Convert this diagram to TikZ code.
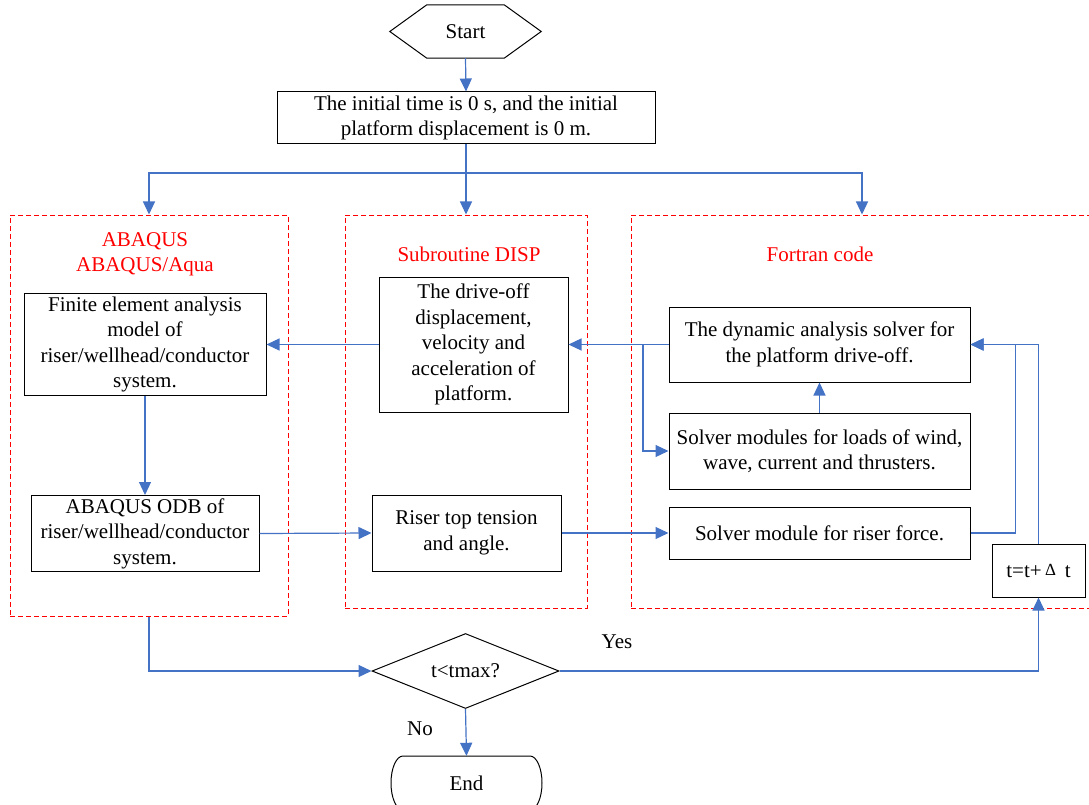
\documentclass[tikz,border=0pt]{standalone}
\usepackage{fontspec}
\setmainfont{Liberation Serif}
\usepackage{tikz}
\usetikzlibrary{arrows.meta,positioning,calc,shapes.geometric}
\definecolor{flowblue}{HTML}{4472C4}
\definecolor{groupred}{HTML}{FF0000}
\newcommand{\fsz}{\fontsize{21}{25.5}\selectfont}
\tikzset{
  procbox/.style={rectangle, draw=black, line width=1pt, align=center, inner sep=1pt},
  groupbox/.style={rectangle, draw=groupred, dash pattern=on 5pt off 3pt, line width=1pt},
  grouptitle/.style={text=groupred, align=center},
  decide/.style={diamond, draw=black, line width=1pt, aspect=2.5, inner sep=0pt,
                 minimum width=187pt, minimum height=75pt},
  arr/.style={-{Triangle[length=13pt,width=12pt]}, line width=1.2pt, draw=flowblue},
}

\begin{document}
\begin{tikzpicture}[x=1pt, y=-1pt, font=\fsz]
    \useasboundingbox (0,0) rectangle (1089,805);
    \clip (0,0) rectangle (1089,805);
    \node[minimum width=151pt, minimum height=53pt] (start) at (465.5,31.5) {Start};
    \draw[line width=1pt] (start.west) -- ($(start.north west)+(37,0)$) -- ($(start.north east)+(-37,0)$)
      -- (start.east) -- ($(start.south east)+(-37,0)$) -- ($(start.south west)+(37,0)$) -- cycle;
    \node[procbox, minimum width=378pt, minimum height=52pt] (init) at (466,118)
      {The initial time is 0 s, and the initial\\platform displacement is 0 m.};

    \node[groupbox, minimum width=278pt, minimum height=401pt] (gab) at (149,415.5) {};
    \node[groupbox, minimum width=242pt, minimum height=393pt] (gdisp) at (466,411.5) {};
    \node[groupbox, minimum width=462pt, minimum height=393pt] (gfor) at (862,411.5) {};
    \node[grouptitle] (tab) at (145,254.5) {ABAQUS\\ABAQUS/Aqua};
    \node[grouptitle] (tdisp) at (469,254) {Subroutine DISP};
    \node[grouptitle] (tfor) at (820,254) {Fortran code};

    \node[procbox, minimum width=242pt, minimum height=102pt] (fe) at (145,344.5)
      {Finite element analysis\\model of\\riser/wellhead/conductor\\system.};
    \node[procbox, minimum width=228pt, minimum height=76pt, below=99pt of fe] (odb)
      {ABAQUS ODB of\\riser/wellhead/conductor\\system.};
    \node[procbox, minimum width=189pt, minimum height=135pt] (drive) at (473.5,344.5)
      {The drive-off\\displacement,\\velocity and\\acceleration of\\platform.};
    \node[procbox, minimum width=189pt, minimum height=76pt] (riser) at (466.5,533)
      {Riser top tension\\and angle.};
    \node[procbox, minimum width=301pt, minimum height=75pt] (dyn) at (819.5,344.5)
      {The dynamic analysis solver for\\the platform drive-off.};
    \node[procbox, minimum width=301pt, minimum height=76pt, below=30pt of dyn] (loads)
      {Solver modules for loads of wind,\\wave, current and thrusters.};
    \node[procbox, minimum width=301pt, minimum height=52pt] (force) at (819.5,533)
      {Solver module for riser force.};
    \node[procbox, minimum width=93pt, minimum height=53pt] (dt) at (1038.5,570.5)
      {t=t+\,\raisebox{2pt}{\fontsize{17}{17}\selectfont Δ}\, t};

    \node[decide] (cond) at (465.5,671) {t<tmax?};
    \node[minimum width=151pt, minimum height=54pt] (endn) at (466.5,783) {End};
    \draw[line width=1pt] (403,756) -- (530,756) arc[start angle=-90, end angle=90, x radius=12, y radius=27]
      -- (403,810) arc[start angle=90, end angle=270, x radius=12, y radius=27];
    \node (yes) at (617,642) {Yes};
    \node (no) at (420,729) {No};

    \coordinate (split) at (466,173);
    \coordinate (brk) at (643,344.5);
    \draw[arr] (start.south) -- (init.north);
    \draw[arr] (init.south) -- (gdisp.north);
    \draw[arr] (split) -| (gab.north);
    \draw[arr] (split) -| (gfor.north);
    \draw[arr] (dyn.west) -- (drive.east);
    \draw[arr] (brk) |- (loads.west);
    \draw[arr] (loads.north) -- (dyn.south);
    \draw[arr] (drive.west) -- (fe.east);
    \draw[arr] (fe.south) -- (odb.north);
    \draw[arr] (odb.east) -- (riser.west);
    \draw[arr] (riser.east) -- (force.west);
    \draw[arr] (force.east) -- ++(45,0) |- (dyn.east);
    \draw[arr] (dt.north) |- (dyn.east);
    \draw[arr] (gab.south) |- (cond.west);
    \draw[arr] (cond.east) -| (dt.south);
    \draw[arr] (cond.south) -- (endn.north);
\end{tikzpicture}
\end{document}
